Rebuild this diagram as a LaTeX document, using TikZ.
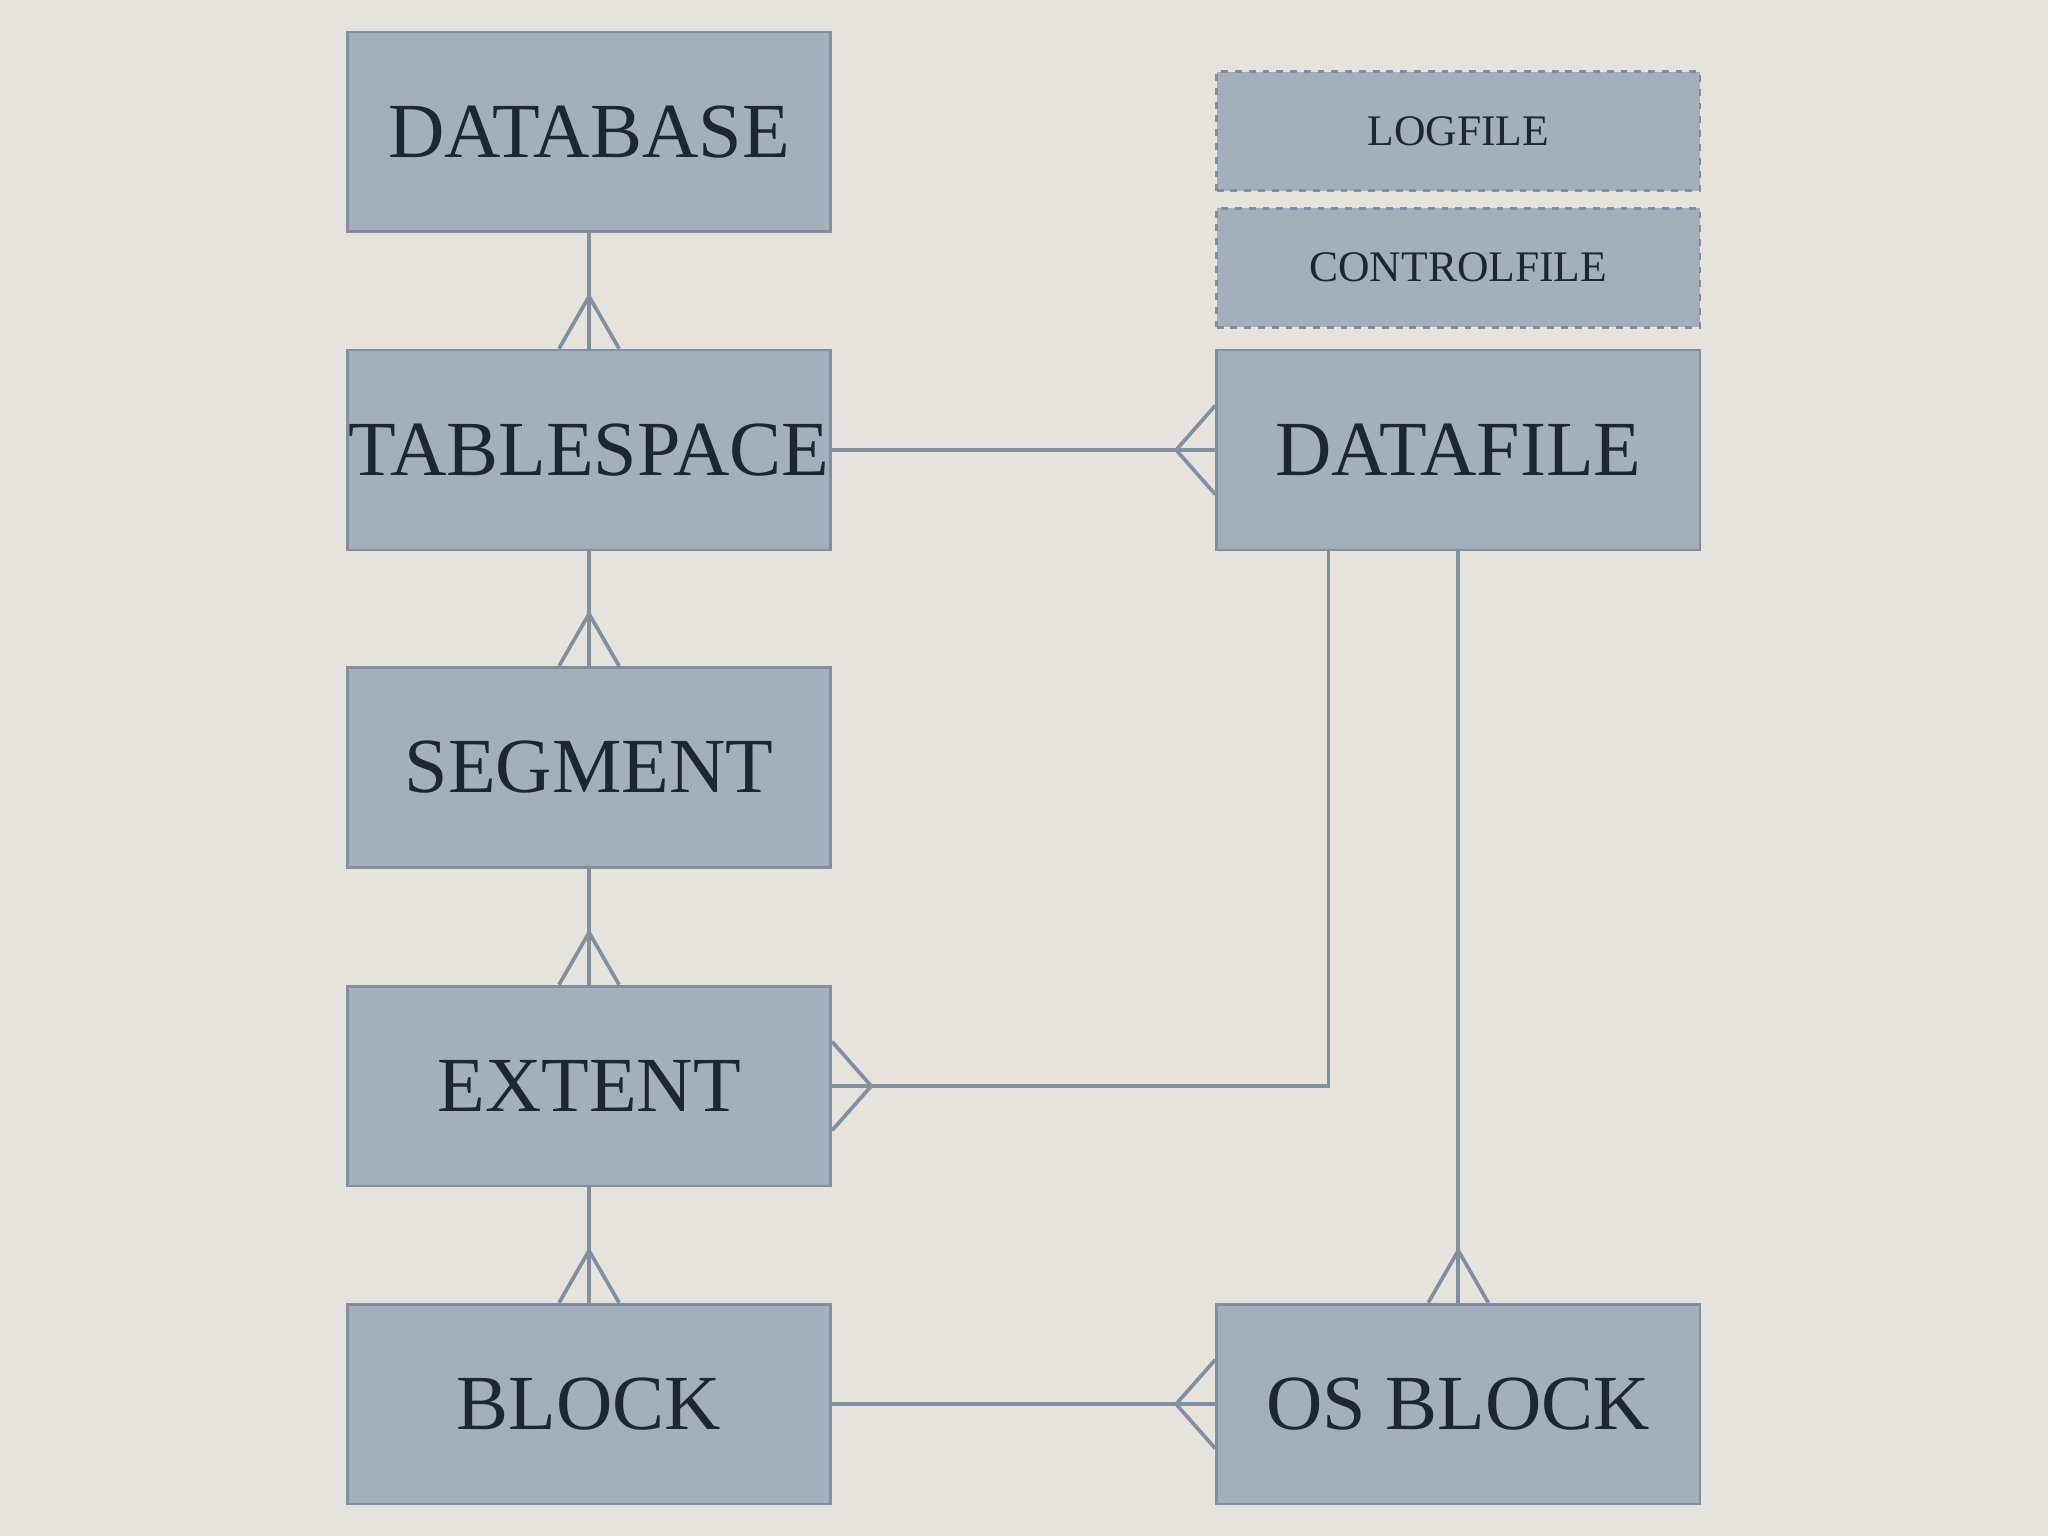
\documentclass[tikz,border=0pt]{standalone}
\usepackage{fontspec}
\setmainfont{Liberation Serif}
\usetikzlibrary{calc}
\definecolor{bg}{HTML}{E6E3DD}
\definecolor{boxf}{HTML}{A3AFBB}
\definecolor{boxd}{HTML}{8090A0}
\definecolor{txt}{HTML}{1E2630}
\tikzset{
 ent/.style={draw=boxd,line width=1.2pt,fill=boxf,minimum width=370*0.02cm,minimum height=153*0.02cm,inner sep=0,text=txt,font=\fontsize{34}{40}\selectfont},
 dent/.style={ent,dashed,minimum height=91*0.02cm,font=\fontsize{19}{22}\selectfont},
 ln/.style={draw=boxd,line width=1.6pt}
}
\begin{document}
\begin{tikzpicture}[x=0.02cm,y=-0.02cm]
\fill[bg] (0,0) rectangle (1568,1176);
\node[ent] (db) at (451,101) {DATABASE};
\node[ent] (ts) at (451,344.5) {TABLESPACE};
\node[ent] (sg) at (451,587.5) {SEGMENT};
\node[ent] (ex) at (451,831.5) {EXTENT};
\node[ent] (bl) at (451,1075) {BLOCK};
\node[dent] (lf) at (1116.5,100.5) {LOGFILE};
\node[dent] (cf) at (1116.5,205) {CONTROLFILE};
\node[ent] (df) at (1116.5,344.5) {DATAFILE};
\node[ent] (ob) at (1116.5,1075) {OS BLOCK};
% vertical left chain
\foreach \a/\b in {db/ts,ts/sg,sg/ex,ex/bl}{
 \draw[ln] (\a.south) -- (\b.north);
 \draw[ln] ($(\b.north)+(-23,0)$) -- ($(\b.north)+(0,-40)$) -- ($(\b.north)+(23,0)$);
}
% tablespace - datafile
\draw[ln] (ts.east) -- (df.west);
\draw[ln] ($(df.west)+(0,-34)$) -- ($(df.west)+(-30,0)$) -- ($(df.west)+(0,34)$);
% block - os block
\draw[ln] (bl.east) -- (ob.west);
\draw[ln] ($(ob.west)+(0,-34)$) -- ($(ob.west)+(-30,0)$) -- ($(ob.west)+(0,34)$);
% datafile - extent
\coordinate (c1) at ($(df.south)+(-99.5,0)$);
\draw[ln] (c1) |- (ex.east);
\draw[ln] ($(ex.east)+(0,-34)$) -- ($(ex.east)+(30,0)$) -- ($(ex.east)+(0,34)$);
% datafile - os block
\draw[ln] (df.south) -- (ob.north);
\draw[ln] ($(ob.north)+(-23,0)$) -- ($(ob.north)+(0,-40)$) -- ($(ob.north)+(23,0)$);
\end{tikzpicture}
\end{document}
